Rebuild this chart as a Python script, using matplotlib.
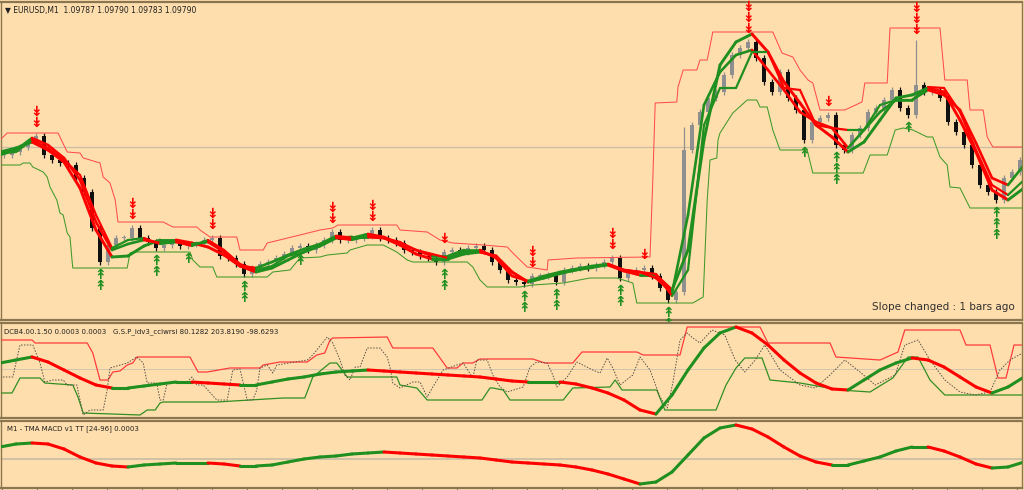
import numpy as np
import matplotlib.pyplot as plt
from matplotlib.collections import LineCollection

# ---------------- data ----------------
# main panel: prices stored as points above 1.09000
base = 1.09
close_pts = [782, 785, 790, 795, 801, 782, 777, 774, 772, 759,
             745, 709, 675, 692, 699, 699, 709, 699, 695, 689,
             692, 694, 691, 693, 693, 697, 699, 681, 679, 673,
             663, 669, 673, 675, 679, 683, 689, 691, 687, 692,
             697, 705, 697, 697, 699, 701, 707, 699, 697, 694,
             687, 685, 681, 679, 675, 685, 687, 685, 689, 691,
             687, 675, 667, 657, 655, 653, 661, 661, 662, 655,
             667, 669, 671, 669, 672, 675, 679, 659, 665, 667,
             669, 661, 649, 637, 645, 787, 812, 825, 839, 845,
             862, 882, 889, 895, 879, 855, 845, 865, 839, 827,
             797, 815, 819, 822, 792, 787, 802, 809, 825, 829,
             837, 847, 829, 822, 852, 845, 847, 839, 815, 805,
             792, 772, 752, 745, 737, 759, 765, 777]
spike_bar = [114, 85]
spike_high_pts = [897, 810]
bid_pts = 790

# smooth averages, one value every 2 bars
slow_pts = [785, 789, 795, 787, 775, 749, 707, 680, 681, 691,
            697, 697, 694, 690, 682, 671, 665, 669, 677, 685,
            691, 699, 700, 700, 699, 692, 683, 678, 678, 683,
            685, 681, 665, 655, 659, 664, 667, 670, 672, 666,
            662, 662, 647, 687, 797, 872, 895, 903, 885, 855,
            834, 812, 800, 785, 795, 817, 839, 842, 849, 845,
            817, 785, 747, 737, 749]
fast_pts = [782, 787, 799, 792, 779, 757, 715, 687, 693, 697,
            694, 695, 693, 695, 685, 671, 669, 675, 682, 688,
            693, 701, 699, 703, 700, 693, 687, 681, 681, 687,
            687, 679, 661, 656, 661, 665, 668, 671, 673, 667,
            665, 659, 644, 722, 832, 865, 882, 887, 867, 847,
            825, 815, 809, 789, 807, 825, 837, 837, 847, 842,
            827, 794, 759, 752, 772]
step_pts = [784, 785, 797, 789, 777, 762, 722, 689, 697, 699,
            693, 695, 691, 697, 687, 673, 667, 671, 681, 685,
            691, 699, 697, 701, 699, 695, 687, 683, 679, 685,
            685, 681, 665, 655, 659, 663, 667, 669, 673, 667,
            665, 663, 641, 667, 812, 849, 849, 885, 885, 849,
            847, 812, 809, 807, 807, 832, 837, 837, 850, 849,
            825, 787, 752, 742, 757]

# price channel (bar, points)
upper_bar = [-0.5, 0.4, 6.75, 7.9, 9.5, 9.9, 10.75, 12, 12.4, 13.25, 13.9, 14.25, 19.9, 21.1,
             24.1, 24.5, 25.75, 29.1, 29.5, 32.4, 32.9, 37, 39.5, 41.1, 41.75, 49.1, 49.5, 52.9,
             54.5, 56.1, 59.9, 62.9, 63.6, 65.4, 67.9, 68, 71.6, 80.75, 81.1, 81.4, 84.1, 84.25,
             84.9, 86.6, 87, 87.9, 88.6, 96.1, 97.25, 98.6, 99.5, 100.5, 101.1, 102, 105.1,
             107.25, 107.6, 110.4, 110.75, 117, 117.6, 120.4, 120.75, 122.4, 122.9, 123.6, 128.25]
upper_pts = [797, 804, 804, 785, 784, 779, 777, 774, 760, 754, 737, 715, 715, 710,
             710, 707, 700, 700, 687, 687, 694, 702, 707, 709, 712, 712, 707, 705,
             697, 694, 692, 690, 684, 670, 667, 677, 679, 680, 757, 834, 835, 850,
             867, 867, 877, 877, 905, 905, 884, 880, 867, 857, 854, 827, 827,
             835, 854, 854, 909, 909, 857, 857, 827, 827, 800, 790, 790]
lower_bar = [-0.5, 2, 2.4, 3.25, 3.6, 4.9, 5.4, 5.75, 6.6, 7, 7.4, 7.9, 8.25, 8.5, 8.6, 15.4,
             15.75, 16.1, 23.25, 23.6, 24.5, 26.1, 26.6, 32.9, 33.6, 35.75, 37, 39.5, 40.4, 42.9,
             43.25, 45.4, 47.4, 49.1, 50.4, 51.1, 57.9, 58.6, 59.5, 60.4, 64.5, 66.1, 69.9, 73.25,
             76.6, 78.6, 79.1, 86.1, 87.4, 87.9, 88.25, 89.1, 89.25, 89.5, 91.1, 92.9, 94.1, 94.5,
             95.4, 96.1, 97, 100.4, 101.1, 107.4, 108.25, 110.4, 111.4, 112.4, 113.6, 115.4,
             116.1, 117, 117.9, 118.25, 119.5, 120.75, 128.25]
lower_pts = [772, 772, 774, 774, 770, 765, 760, 750, 737, 724, 722, 704, 700, 677, 669, 669,
             684, 685, 685, 677, 670, 670, 660, 660, 665, 667, 679, 680, 682, 684,
             687, 692, 692, 685, 677, 675, 675, 670, 657, 650, 650, 652, 654, 659,
             659, 654, 634, 634, 640, 737, 777, 779, 797, 804, 824, 837, 837, 830,
             830, 807, 787, 787, 764, 764, 782, 782, 807, 809, 807, 800,
             800, 780, 772, 750, 749, 729, 729]

# signal arrows (bar, number of arrows)
sell_bar = [4, 16, 26, 41, 46, 55, 66, 76, 80, 93, 103, 114]
sell_n = [2, 2, 2, 2, 2, 1, 2, 2, 1, 3, 1, 3]
buy_bar = [12, 19, 23, 30, 37, 55, 65, 69, 77, 83, 100, 104, 113, 124]
buy_n = [2, 2, 1, 2, 1, 2, 2, 2, 2, 2, 1, 3, 1, 3]

# panel 2: DCB channel + G.S.P oscillator
dcb_up_bar = [-0.5, 3.5, 3.9, 10.4, 11.1, 12, 13, 13.6, 14.5, 15.4, 16.1, 16.6, 23.25, 24.25,
              25.4, 28.25, 32, 32.4, 34.5, 37.9, 39.1, 40.1, 40.75, 41.1, 47.9, 48.6, 53.6,
              55.4, 56.6, 57.4, 58.6, 59.5, 66.1, 67.6, 71.1, 72.25, 79.1, 79.9, 84.5, 85.4,
              94.5, 95.5, 103.25, 104, 109.5, 111.75, 112.6, 119.5, 120.25, 123.25, 124.25,
              125.25, 126.25, 128]
dcb_up = [29, 29, 26, 26, 16, -11, -11, -3, -2, 4, 6, 12, 12, -3,
          -3, 1, 1, 4, 7, 7, 14, 16, 29, 31, 32, 21, 21,
          1, 1, 6, 6, 10, 10, 6, 6, 17, 17, 14, 14, 42,
          42, 26, 26, 12, 9, 17, 39, 39, 24, 24, -9,
          -9, 24, 24]
dcb_lo_bar = [-0.5, 1, 2, 4.5, 5.1, 8.6, 9.25, 9.9, 17, 17.9, 18.9, 19.5, 19.9, 26.6, 34.9,
              37.6, 38.6, 40.75, 41.6, 42.9, 49.1, 49.5, 51.6, 52.9, 59.75, 60.75, 61.1, 62.4,
              63.25, 69.9, 71.1, 75.75, 76.4, 77.25, 81.6, 82.6, 87, 89, 90.25, 91.5, 92.6,
              94.75, 95.75, 99.5, 104.5, 108.25, 111.1, 113, 114.25, 115.75, 117.6, 128]
dcb_lo = [-24, -24, -9, -9, -14, -16, -28, -44, -46, -41, -41, -34, -33, -33, -29,
          -29, -8, 6, 6, -8, -8, -16, -19, -31, -31, -19, -19, -21,
          -31, -31, -19, -18, -11, -21, -21, -41, -41, -41, -16, 1, 11,
          11, -11, -14, -21, -23, -9, 12, 12, -11, -26, -26]
gsp_bar = [-0.5, 1.1, 2, 3.6, 4.5, 5.1, 6.1, 7.4, 7.9, 9.1, 9.5, 9.9, 10.75, 12.4, 12.9, 13.25,
           15.4, 16.6, 17.4, 17.9, 19.1, 19.5, 19.9, 20.4, 22.9, 23.5, 24.1, 24.9, 26.6, 27.9,
           28.6, 29.5, 30.4, 31.1, 31.6, 32, 32.9, 33.6, 34.1, 37.9, 38.6, 40.4, 41.1, 42,
           42.6, 43.25, 43.9, 44.5, 45.4, 47, 47.9, 48.25, 48.6, 49.5, 51.1, 52, 52.9, 53.6,
           54.9, 56.6, 57.4, 58.6, 59.1, 60.4, 61.1, 62, 62.9, 64.9, 65.75, 66.6, 67.9, 68.6,
           69.1, 70.4, 71.6, 73.6, 74.5, 75.4, 76.1, 77, 78.6, 79.5, 80.75, 82, 82.9, 83.6,
           84.5, 85.4, 86.1, 87, 88.5, 90.1, 91.4, 92.6, 93.9, 95.1, 97, 99.5, 101.4, 103.25,
           105.1, 107, 108.9, 111.4, 112.6, 114.25, 115.75, 117.6, 119.5, 121.4, 123.25,
           124.5, 125.75, 128]
gsp = [-8, -8, 24, 24, 6, -13, -11, -11, -16, -16, -31, -46, -41, -41, -21, 1,
       6, 12, 6, -14, -14, -31, -31, -14, -13, -8, -16, -16, -31, -31,
       -1, 0, -31, -31, -21, 1, 4, -4, 4, 9, 14, 32, 26, 9,
       -6, -11, 2, 2, 21, 21, 12, 2, -14, -19, -13, -13, -28, -18,
       -1, 4, 6, -9, 9, 9, -6, -18, -23, -18, 2, 7, 6, -6,
       -18, -8, 7, -1, -4, 11, 1, -16, -6, 12, -1, -28, -39, -14,
       29, 36, 31, 26, 39, 34, 9, -3, 9, 24, -1, -16, -19, -6,
       9, -3, -16, -6, 24, 29, 9, -11, -23, -26, -23,
       -1, 9, 19]
dcb_mid = [6, 9, 12, 7, -1, -9, -16, -19, -19, -17, -15, -13, -13, -14, -15, -16, -16, -13, -10, -8,
           -5, -3, -2, -1, -2, -3, -4, -5, -6, -7, -8, -10, -12, -13, -13, -13, -15, -19, -24, -31,
           -41, -45, -26, -1, 21, 36, 42, 36, 24, 9, -4, -14, -20, -21, -11, -1, 6, 11, 9, 2,
           -8, -18, -24, -18, -8]

# panel 3: TMA MACD (points)
macd = [12, 15, 16, 15, 10, 2, -4, -7, -8, -6, -5, -4, -4, -4, -5, -7, -7, -6, -3, 0,
        2, 3, 5, 6, 7, 6, 5, 4, 3, 2, 1, -1, -3, -4, -5, -6, -8, -11, -15, -20,
        -25, -23, -13, 4, 21, 31, 34, 30, 22, 12, 3, -3, -6, -6, -2, 2, 8, 12, 12, 8,
        2, -5, -9, -8, -3]

# ---------------- style ----------------
bg = '#ffdead'
frame = '#8a7650'
red = '#ff0000'
green = '#1f8f1f'

plt.close('all')
fig = plt.figure(figsize=(10.24, 4.9), dpi=100, facecolor=bg)
L, W = 1 / 1024, 1021 / 1024
ax = fig.add_axes([L, 1 - 320 / 490, W, 318 / 490])
ax2 = fig.add_axes([L, 1 - 418 / 490, W, 95.5 / 490])
ax3 = fig.add_axes([L, 1 - 487.5 / 490, W, 67 / 490])

for a in (ax, ax2, ax3):
    a.set_facecolor(bg)
    a.set_xlim(-0.375, 127.25)
    a.set_yticks([])
    for s in a.spines.values():
        s.set_color(frame)
        s.set_linewidth(1)
    a.spines['top'].set_linewidth(1.6)
    a.spines['bottom'].set_linewidth(1.6)


def slope_line(a, x, y, lw):
    x = np.asarray(x, float)
    y = np.asarray(y, float)
    seg = np.stack([np.column_stack([x[:-1], y[:-1]]), np.column_stack([x[1:], y[1:]])], axis=1)
    cols = [green if y[i + 1] >= y[i] else red for i in range(len(y) - 1)]
    a.add_collection(LineCollection(seg, colors=cols, linewidths=lw, capstyle='round', zorder=5))


# ---- main panel ----
c = base + np.array(close_pts) / 1e5
o = np.r_[c[0], c[:-1]]
hi = np.maximum(o, c) + 3e-5
lo = np.minimum(o, c) - 3e-5
for b, h in zip(spike_bar, spike_high_pts):
    hi[b] = base + h / 1e5
xb = np.arange(len(c))
bull = c >= o
ccol = np.where(bull, '#8f8f8f', '#101010')
ax.vlines(xb, lo, hi, colors=ccol, lw=0.9, zorder=2)
body = np.maximum(np.abs(c - o), 1e-5)
ax.bar(xb, body, bottom=np.minimum(o, c), width=0.45, color=ccol, zorder=3)

ax.axhline(base + bid_pts / 1e5, color='#c9bda8', lw=0.9, zorder=1)
ax.plot(upper_bar, base + np.array(upper_pts) / 1e5, color='#ff4d4d', lw=0.75, zorder=4)
ax.plot(lower_bar, base + np.array(lower_pts) / 1e5, color='#3f9a2a', lw=0.75, zorder=4)

xs = np.arange(len(slow_pts)) * 2 - 0.5
slope_line(ax, xs, base + np.array(slow_pts) / 1e5, 2.1)
slope_line(ax, xs, base + np.array(fast_pts) / 1e5, 1.9)
slope_line(ax, xs, base + np.array(step_pts) / 1e5, 1.6)

# stacked signal arrows: one text per stack
for b, n in zip(sell_bar, sell_n):
    ax.annotate('\n'.join(['\u21a1'] * n), (b, hi[b]), xytext=(0, 3), textcoords='offset pixels',
                ha='center', va='bottom', color=red, fontsize=10, fontweight='bold',
                linespacing=0.72, zorder=6)
for b, n in zip(buy_bar, buy_n):
    ax.annotate('\n'.join(['\u219f'] * n), (b, lo[b]), xytext=(0, -3), textcoords='offset pixels',
                ha='center', va='top', color=green, fontsize=10, fontweight='bold',
                linespacing=0.72, zorder=6)

ax.set_ylim(base + 617 / 1e5, base + 935 / 1e5)
ax.set_xticks([])
ax.text(0.004, 0.988, '\u25bc EURUSD,M1  1.09787 1.09790 1.09783 1.09790', transform=ax.transAxes,
        fontsize=5.5, va='top', ha='left', color='#202020')
ax.text(0.993, 0.04, 'Slope changed : 1 bars ago', transform=ax.transAxes,
        fontsize=7.5, va='center', ha='right', color='#303030')

# ---- panel 2 ----
ax2.axhline(0, color='#d2c6b0', lw=0.7, zorder=1)
ax2.plot(dcb_up_bar, dcb_up, color='#ff3b3b', lw=0.9, zorder=3)
ax2.plot(dcb_lo_bar, dcb_lo, color='#2f8f22', lw=0.9, zorder=3)
ax2.plot(gsp_bar, gsp, color='#555045', lw=0.7, ls=(0, (1.5, 1.5)), zorder=3)
slope_line(ax2, xs, dcb_mid, 2.2)
ax2.set_ylim(-49, 46.5)
ax2.set_xticks([])
ax2.text(0.003, 0.9, 'DCB4.00.1.50 0.0003 0.0003   G.S.P_idv3_cciwrsi 80.1282 203.8190 -98.6293',
         transform=ax2.transAxes, fontsize=5, va='center', ha='left', color='#202020')

# ---- panel 3 ----
ax3.axhline(0, color='#c3b9a6', lw=1.1, zorder=1)
slope_line(ax3, xs, macd, 2.2)
ax3.set_ylim(-28.5, 38.5)
ax3.text(0.006, 0.88, 'M1 - TMA MACD v1 TT [24-96] 0.0003', transform=ax3.transAxes,
         fontsize=5, va='center', ha='left', color='#202020')
tick_px = np.arange(2, 1024, 35)
ax3.set_xticks((tick_px - 4) / 8)
ax3.set_xticklabels([])
ax3.tick_params(axis='x', length=3, width=0.8, color=frame, direction='out')

fig.savefig('out.png', dpi=100, facecolor=bg)
